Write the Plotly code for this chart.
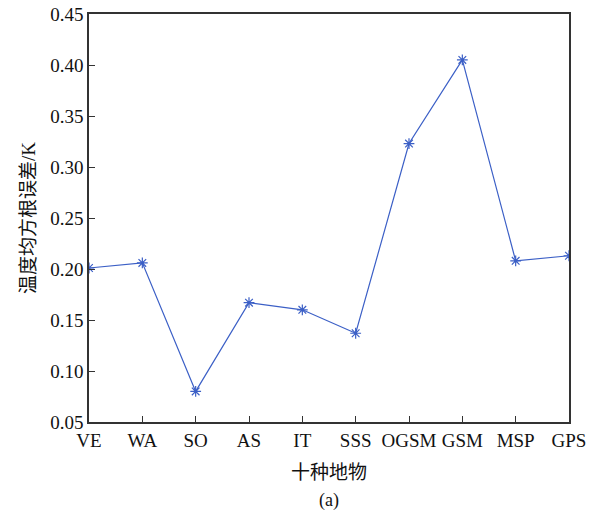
import plotly.graph_objects as go

# Ten land-cover types and the RMSE of retrieved temperature for each
categories = ["VE", "WA", "SO", "AS", "IT", "SSS", "OGSM", "GSM", "MSP", "GPS"]
rmse = [0.201, 0.206, 0.080, 0.167, 0.160, 0.137, 0.323, 0.405, 0.208, 0.213]
y_ticks = [0.05, 0.10, 0.15, 0.20, 0.25, 0.30, 0.35, 0.40, 0.45]
y_tick_labels = ["0.05", "0.10", "0.15", "0.20", "0.25", "0.30", "0.35", "0.40", "0.45"]

serif = "Times New Roman, Liberation Serif, serif"
mixed = "Liberation Serif, Noto Sans CJK SC, serif"
line_blue = "#3b5fc6"
axis_col = "#333333"

fig = go.Figure()
fig.add_trace(go.Scatter(
    x=list(range(len(categories))),
    y=rmse,
    mode="lines+markers",
    line=dict(color=line_blue, width=1.2),
    marker=dict(symbol="asterisk-open", size=9,
                line=dict(color=line_blue, width=1.2)),
    showlegend=False,
))

fig.update_layout(
    width=597, height=518,
    margin=dict(l=89, r=28, t=14, b=96, autoexpand=False),
    paper_bgcolor="white", plot_bgcolor="white",
    font=dict(family=serif, size=19, color="#111111"),
    xaxis=dict(
        range=[0, len(categories) - 1],
        tickmode="array",
        tickvals=list(range(len(categories))),
        ticktext=categories,
        ticks="inside", ticklen=6, tickcolor=axis_col, tickwidth=1,
        showline=True, linecolor=axis_col, linewidth=1.5, mirror=True,
        showgrid=False, zeroline=False,
        tickfont=dict(family=serif, size=19),
        title=dict(text="十种地物", font=dict(family=mixed, size=19), standoff=16),
        automargin=False,
    ),
    yaxis=dict(
        range=[0.05, 0.45],
        tickmode="array",
        tickvals=y_ticks,
        ticktext=y_tick_labels,
        ticks="inside", ticklen=6, tickcolor=axis_col, tickwidth=1,
        showline=True, linecolor=axis_col, linewidth=1.5, mirror=True,
        showgrid=False, zeroline=False,
        tickfont=dict(family=serif, size=19),
        title=dict(text="温度均方根误差/K", font=dict(family=mixed, size=19), standoff=10),
        automargin=False,
    ),
)

fig.add_annotation(
    text="(a)", xref="paper", yref="paper", x=0.5, y=0, yshift=-66,
    yanchor="top", showarrow=False, font=dict(family=serif, size=18),
)

fig.write_html("out.html")
